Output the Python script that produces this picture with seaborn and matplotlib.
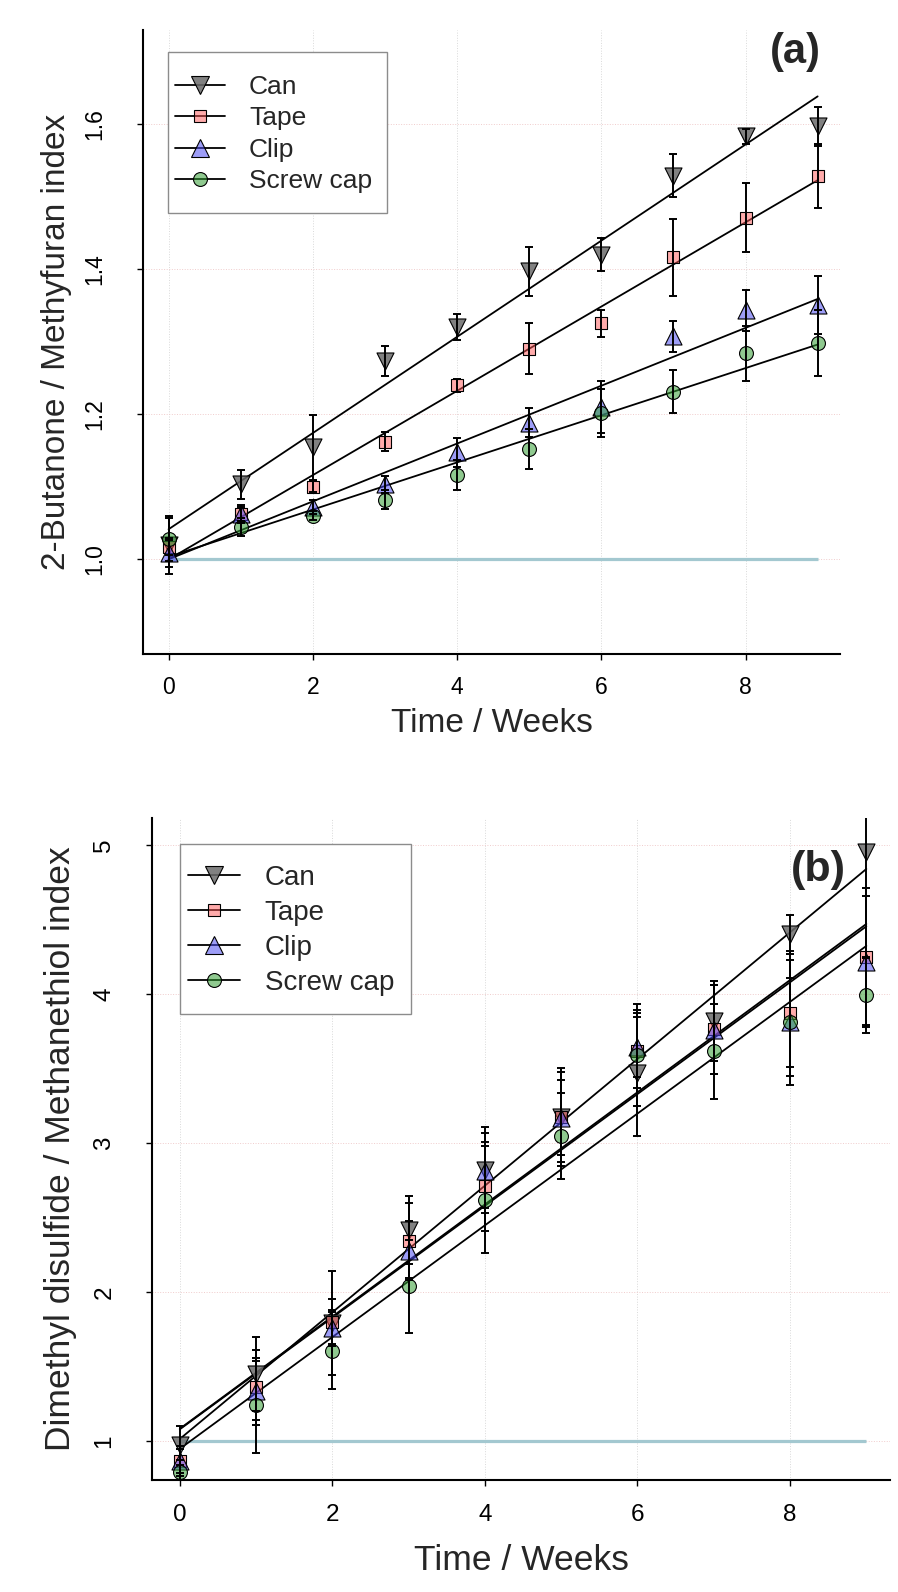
import numpy as np
import pandas as pd
import matplotlib
matplotlib.use("Agg")
import matplotlib.pyplot as plt
import seaborn as sns
from matplotlib.lines import Line2D
from matplotlib.patches import Rectangle

# ---------------- data ----------------
weeks = [0, 1, 2, 3, 4, 5, 6, 7, 8, 9]
series_names = ["Can", "Tape", "Clip", "Screw cap"]

# panel (a): 2-Butanone / Methylfuran index
can_a = [1.020, 1.103, 1.154, 1.273, 1.320, 1.397, 1.420, 1.529, 1.583, 1.597]
can_a_err = [0.040, 0.020, 0.045, 0.021, 0.018, 0.034, 0.023, 0.030, 0.010, 0.027]
tape_a = [1.016, 1.062, 1.100, 1.162, 1.240, 1.290, 1.325, 1.416, 1.471, 1.528]
tape_a_err = [0.010, 0.010, 0.008, 0.013, 0.009, 0.035, 0.019, 0.053, 0.047, 0.044]
clip_a = [1.009, 1.062, 1.072, 1.103, 1.147, 1.188, 1.210, 1.307, 1.343, 1.351]
clip_a_err = [0.020, 0.012, 0.010, 0.012, 0.020, 0.020, 0.036, 0.022, 0.028, 0.040]
screw_a = [1.027, 1.044, 1.060, 1.082, 1.116, 1.152, 1.201, 1.231, 1.284, 1.298]
screw_a_err = [0.030, 0.012, 0.006, 0.013, 0.021, 0.028, 0.033, 0.030, 0.038, 0.046]

# panel (b): Dimethyl disulfide / Methanethiol index
can_b = [0.970, 1.450, 1.790, 2.415, 2.820, 3.175, 3.470, 3.820, 4.400, 4.950]
can_b_err = [0.13, 0.25, 0.35, 0.23, 0.29, 0.33, 0.42, 0.27, 0.13, 0.70]
tape_b = [0.868, 1.360, 1.800, 2.345, 2.708, 3.175, 3.620, 3.763, 3.870, 4.250]
tape_b_err = [0.10, 0.25, 0.15, 0.25, 0.30, 0.30, 0.25, 0.30, 0.42, 0.46]
clip_b = [0.868, 1.338, 1.760, 2.277, 2.815, 3.170, 3.646, 3.760, 3.810, 4.215]
clip_b_err = [0.08, 0.20, 0.12, 0.20, 0.25, 0.25, 0.20, 0.30, 0.42, 0.44]
screw_b = [0.794, 1.240, 1.606, 2.037, 2.620, 3.046, 3.590, 3.615, 3.810, 3.990]
screw_b_err = [0.08, 0.32, 0.26, 0.31, 0.36, 0.29, 0.34, 0.32, 0.30, 0.25]

reference_level = 1.0
xticks = [0, 2, 4, 6, 8]
yticks_a = [1.0, 1.2, 1.4, 1.6]
yticks_b = [1, 2, 3, 4, 5]
ylabel_a = "2-Butanone / Methyfuran index"
ylabel_b = "Dimethyl disulfide / Methanethiol index"
xlabel = "Time / Weeks"

# ---------------- styles ----------------
sns.set_style("ticks")
plt.rcParams["font.family"] = ["Liberation Sans", "DejaVu Sans"]

styles = {
    "Can": dict(marker="v", fc=(0.42, 0.42, 0.42, 0.85), s=150, ms=12.5),
    "Tape": dict(marker="s", fc=(1.0, 0.35, 0.35, 0.5), s=75, ms=8.5),
    "Clip": dict(marker="^", fc=(0.3, 0.3, 0.95, 0.55), s=150, ms=12.5),
    "Screw cap": dict(marker="o", fc=(0.2, 0.62, 0.2, 0.55), s=100, ms=10),
}

W, H = 898, 1592
fig = plt.figure(figsize=(W / 100, H / 100), dpi=100)

# axes geometry in pixels: left, right, top, bottom
geo_a = (143.3, 840.0, 30.0, 654.3)
geo_b = (152.3, 890.0, 818.0, 1480.0)


def make_axes(g):
    l, r, t, b = g
    return fig.add_axes([l / W, 1 - b / H, (r - l) / W, (b - t) / H])


ax_a = make_axes(geo_a)
ax_b = make_axes(geo_b)

panels = [
    dict(ax=ax_a, ys=[can_a, tape_a, clip_a, screw_a],
         errs=[can_a_err, tape_a_err, clip_a_err, screw_a_err],
         xlim=(-0.35, 9.31), ylim=(0.8686, 1.7297), yt=yticks_a,
         ytl=["1.0", "1.2", "1.4", "1.6"], ylab=ylabel_a, xpad=11.5,
         fs=dict(tick=16.5, lab=24, leg=19), g=geo_a, ylab_x=57.0, xlab_y=724.0,
         legbox=(168.0, 52.0, 387.0, 213.0), leg_anchor=(175.0, 134.2),
         leg_kw=dict(handlelength=1.9, handletextpad=0.9, labelspacing=0.285)),
    dict(ax=ax_b, ys=[can_b, tape_b, clip_b, screw_b],
         errs=[can_b_err, tape_b_err, clip_b_err, screw_b_err],
         xlim=(-0.36, 9.31), ylim=(0.738, 5.181), yt=yticks_b,
         ytl=["1", "2", "3", "4", "5"], ylab=ylabel_b, xpad=13.5,
         fs=dict(tick=17.5, lab=25.5, leg=20), g=geo_b, ylab_x=61.0, xlab_y=1560.0,
         legbox=(179.6, 843.6, 411.0, 1014.0), leg_anchor=(187.6, 930.5),
         leg_kw=dict(handlelength=1.87, handletextpad=0.9, labelspacing=0.32)),
]

for p in panels:
    ax = p["ax"]
    l, r, t, b = p["g"]
    fs = p["fs"]
    ax.set_xlim(*p["xlim"])
    ax.set_ylim(*p["ylim"])
    ax.xaxis.grid(True, ls=":", lw=0.7, color="#d9d9d9")
    ax.yaxis.grid(True, ls=":", lw=0.7, color="#f0cccc")
    ax.set_axisbelow(True)

    ax.hlines(reference_level, weeks[0], weeks[-1], color="#a3c8d0", lw=2.3, zorder=1)

    for name, y, e in zip(series_names, p["ys"], p["errs"]):
        st = styles[name]
        df = pd.DataFrame({"week": weeks, "value": y})
        sns.regplot(data=df, x="week", y="value", scatter=False, ci=None, truncate=True,
                    color="black", line_kws=dict(lw=1.3, zorder=2), ax=ax)
        sns.scatterplot(data=df, x="week", y="value", marker=st["marker"], s=st["s"],
                        color=st["fc"], edgecolor="black", linewidth=0.8, ax=ax,
                        zorder=3, legend=False)
        ax.errorbar(weeks, y, yerr=e, fmt="none", ecolor="black", elinewidth=1.4,
                    capsize=3, capthick=1.4, zorder=4)

    ax.set_xticks(xticks)
    ax.set_xticklabels([str(v) for v in xticks])
    ax.set_yticks(p["yt"])
    ax.set_yticklabels(p["ytl"])
    for sp in ["top", "right"]:
        ax.spines[sp].set_visible(False)
    for sp in ["left", "bottom"]:
        ax.spines[sp].set_color("black")
        ax.spines[sp].set_linewidth(1.5)
    ax.tick_params(axis="both", direction="out", length=4, width=1, colors="black",
                   labelsize=fs["tick"])
    ax.tick_params(axis="x", pad=p["xpad"])
    ax.tick_params(axis="y", pad=22.5, labelrotation=90)
    for lbl in ax.get_yticklabels():
        lbl.set_verticalalignment("center")

    ax.set_xlabel(xlabel, fontsize=fs["lab"])
    ax.set_ylabel(p["ylab"], fontsize=fs["lab"])
    ax.xaxis.set_label_coords(0.5, -(p["xlab_y"] - b) / (b - t))
    ax.xaxis.label.set_verticalalignment("center")
    ax.yaxis.set_label_coords((p["ylab_x"] - l) / (r - l), 0.5)
    ax.yaxis.label.set_verticalalignment("center")

    # legend frame
    bx0, by0, bx1, by1 = p["legbox"]
    ax.add_patch(Rectangle((bx0 / W, 1 - by1 / H), (bx1 - bx0) / W, (by1 - by0) / H,
                           transform=fig.transFigure, facecolor="white",
                           edgecolor="#8c8c8c", linewidth=1.0, zorder=4.9, clip_on=False))

    handles = [Line2D([0], [0], color="black", lw=1.3, marker=styles[n]["marker"],
                      markersize=styles[n]["ms"], markerfacecolor=styles[n]["fc"],
                      markeredgecolor="black", markeredgewidth=0.8) for n in series_names]
    ax_x, ax_y = p["leg_anchor"]
    lx = (ax_x - l) / (r - l)
    ly = (b - ax_y) / (b - t)
    leg = ax.legend(handles, series_names, loc="center left", bbox_to_anchor=(lx, ly),
                    borderaxespad=0, frameon=False, fontsize=fs["leg"], borderpad=0,
                    **p["leg_kw"])
    leg.set_zorder(5)

fig.text(795 / W, 1 - 52 / H, "(a)", fontsize=30, fontweight="bold", ha="center", va="center")
fig.text(818 / W, 1 - 870 / H, "(b)", fontsize=31, fontweight="bold", ha="center", va="center")

fig.savefig("out.png", dpi=100, facecolor="white")
